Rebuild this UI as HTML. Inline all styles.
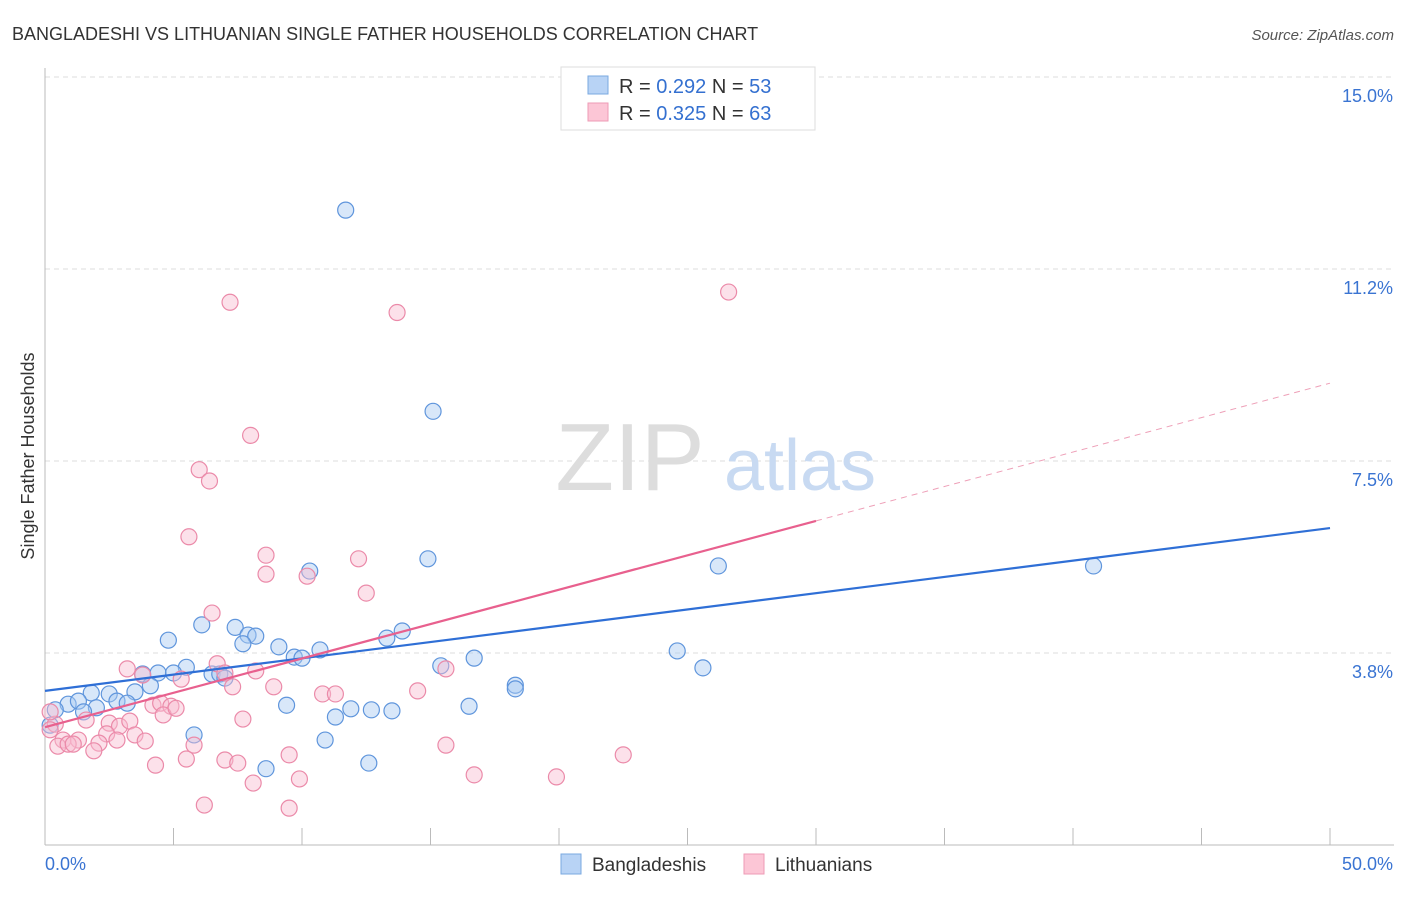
<!DOCTYPE html>
<html><head><meta charset="utf-8"><style>
body{margin:0;background:#fff;font-family:"Liberation Sans",sans-serif;}
svg text{font-family:"Liberation Sans",sans-serif;}
</style></head><body>
<svg width="1406" height="892" xmlns="http://www.w3.org/2000/svg">
<text x="12" y="40" font-size="18" fill="#333">BANGLADESHI VS LITHUANIAN SINGLE FATHER HOUSEHOLDS CORRELATION CHART</text>
<text x="1394" y="40" font-size="15" fill="#555" font-style="italic" text-anchor="end">Source: ZipAtlas.com</text>
<g id="grid"></g>
<text x="630" y="490" font-size="96" fill="#ddd" font-family="Liberation Serif" text-anchor="middle">ZIP</text>
<text x="800" y="490" font-size="72" fill="#c8daf2" text-anchor="middle">atlas</text>
<g id="axes"></g>
<g id="pts"></g>
<g id="lines"></g>
<text transform="translate(34,456) rotate(-90)" font-size="18" fill="#333" text-anchor="middle">Single Father Households</text>
<g>
<rect x="561" y="67" width="254" height="63" fill="#fff" stroke="#ddd"/>
<rect x="588" y="76" width="20" height="18" fill="#b8d3f5" stroke="#7aa8e0"/>
<rect x="588" y="103" width="20" height="18" fill="#fcc6d6" stroke="#ee9bb6"/>
<text x="619" y="93" font-size="20" fill="#333">R = <tspan fill="#3470d0">0.292</tspan>   N = <tspan fill="#3470d0">53</tspan></text>
<text x="619" y="120" font-size="20" fill="#333">R = <tspan fill="#3470d0">0.325</tspan>   N = <tspan fill="#3470d0">63</tspan></text>
</g>
<g>
<rect x="561" y="854" width="20" height="20" fill="#b8d3f5" stroke="#7aa8e0"/>
<text x="592" y="871" font-size="19" fill="#333">Bangladeshis</text>
<rect x="744" y="854" width="20" height="20" fill="#fcc6d6" stroke="#ee9bb6"/>
<text x="775" y="871" font-size="19" fill="#333">Lithuanians</text>
</g>
</svg>
<script>
const yTicks=[3.75,7.5,11.25,15];
const yTickLabels=["3.8%","7.5%","11.2%","15.0%"];
const xTicks=[0,5,10,15,20,25,30,35,40,45,50];
const blueX=[11.7,15.1,14.9,10.3,26.2,40.8,4.8,6.1,7.4,7.9,8.2,7.7,9.1,9.7,10.0,10.7,13.3,13.9,24.6,25.6,15.4,16.7,18.3,18.3,16.5,5.5,6.5,6.8,7.0,3.8,4.4,5.0,4.1,3.5,1.8,2.5,2.8,3.2,0.9,1.3,2.0,1.5,0.4,0.2,9.4,11.3,11.9,12.7,13.5,5.8,10.9,8.6,12.6];
const blueY=[12.4,8.47,5.59,5.35,5.45,5.45,4.0,4.3,4.25,4.1,4.08,3.93,3.87,3.67,3.65,3.81,4.04,4.18,3.79,3.46,3.5,3.65,3.12,3.05,2.71,3.47,3.34,3.34,3.26,3.34,3.36,3.36,3.11,2.99,2.97,2.95,2.81,2.77,2.75,2.81,2.68,2.6,2.64,2.34,2.73,2.5,2.66,2.64,2.62,2.15,2.05,1.49,1.6];
const pinkX=[7.2,13.7,26.6,8.0,6.0,6.4,5.6,8.6,12.2,8.6,10.2,12.5,6.5,3.2,3.8,5.3,6.7,7.0,8.2,7.3,8.9,10.8,11.3,14.5,15.6,4.2,4.5,4.9,4.6,5.1,7.7,1.6,2.5,2.9,3.3,0.4,0.2,2.4,3.5,0.7,1.3,2.1,2.8,3.9,0.5,0.9,1.1,1.9,5.8,9.5,7.0,7.5,5.5,4.3,15.6,22.5,9.9,8.1,16.7,19.9,6.2,9.5,0.2];
const pinkY=[10.6,10.4,10.8,8.0,7.33,7.11,6.02,5.66,5.59,5.29,5.25,4.92,4.53,3.44,3.32,3.24,3.54,3.36,3.4,3.09,3.09,2.95,2.95,3.01,3.44,2.73,2.77,2.71,2.54,2.67,2.46,2.44,2.38,2.32,2.42,2.36,2.25,2.17,2.15,2.05,2.05,1.99,2.05,2.03,1.93,1.97,1.97,1.84,1.95,1.76,1.66,1.6,1.68,1.56,1.95,1.76,1.29,1.21,1.37,1.33,0.78,0.72,2.6];
const blueLine=[[0,3.01],[50,6.19]];
const pinkLineSolid=[[0,2.30],[30,6.33]];
const pinkLineDash=[[30,6.33],[50,9.02]];
const NS="http://www.w3.org/2000/svg";
const X=v=>45+v*25.7, Y=v=>845-v*51.2;
function mk(tag,at,parent){const e=document.createElementNS(NS,tag);for(const k in at)e.setAttribute(k,at[k]);document.getElementById(parent).appendChild(e);return e;}
yTicks.forEach((t,i)=>{
 const l=mk('line',{x1:45,x2:1394,y1:Y(t),y2:Y(t),stroke:'#ddd','stroke-dasharray':'5,4'},'grid');
 
 
 const tx=mk('text',{x:1393,y:Y(t)+25,'font-size':18,fill:'#3a74d2','text-anchor':'end'},'axes');
 tx.textContent=yTickLabels[i];
 
 
});
const ax=mk('line',{x1:45,x2:1394,y1:845,y2:845,stroke:'#bbb'},'axes');


const ay=mk('line',{x1:45,x2:45,y1:68,y2:845,stroke:'#bbb'},'axes');


xTicks.forEach(t=>{
 const l=mk('line',{x1:X(t),x2:X(t),y1:828,y2:845,stroke:'#bbb'},'axes');
 
 
});
[["0.0%",45,"start"],["50.0%",1393,"end"]].forEach(a=>{
 const t=mk('text',{x:a[1],y:870,'font-size':18,fill:'#3a74d2','text-anchor':a[2]},'axes');
 t.textContent=a[0];
 
 
});
function dots(xs,ys,fill,stroke,name){xs.forEach((x,i)=>{
 const c=mk('circle',{cx:X(x),cy:Y(ys[i]),r:8,fill:fill,'fill-opacity':0.45,stroke:stroke,'stroke-width':1.2},'pts');
 
 
});}
dots(blueX,blueY,'#a9c9f2','#5f95dc','point-bangladeshi');
dots(pinkX,pinkY,'#f9bcd0','#eb8aa9','point-lithuanian');
function ln(p,stroke,w,dash,name){
 const l=mk('line',{x1:X(p[0][0]),y1:Y(p[0][1]),x2:X(p[1][0]),y2:Y(p[1][1]),stroke:stroke,'stroke-width':w},'lines');
 if(dash)l.setAttribute('stroke-dasharray',dash);
 
 
}
ln(blueLine,'#2f6fd6',2.2,null,'trend-bangladeshi');
ln(pinkLineSolid,'#e8608e',2.2,null,'trend-lithuanian');
ln(pinkLineDash,'#eea0b8',1,'6,5','trend-lithuanian-extension');
</script>
</body></html>
